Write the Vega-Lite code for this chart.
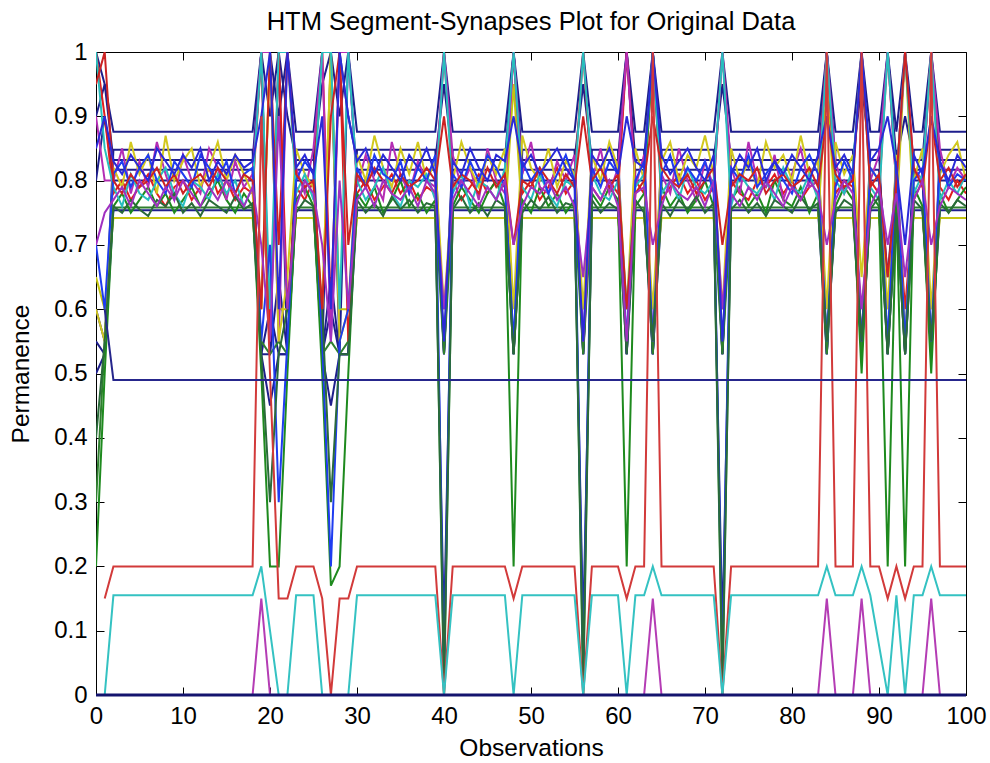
{
  "$schema": "https://vega.github.io/schema/vega-lite/v6.json",
  "width": 870,
  "height": 643,
  "autosize": {"type": "none"},
  "padding": {"left": 96, "top": 52, "right": 24, "bottom": 68},
  "background": "white",
  "title": {
    "text": "HTM Segment-Synapses Plot for Original Data",
    "anchor": "middle",
    "font": "Liberation Sans",
    "fontSize": 25.5,
    "fontWeight": "normal",
    "color": "black",
    "baseline": "alphabetic",
    "offset": -15
  },
  "config": {
    "view": {"stroke": null},
    "axis": {
      "labelFont": "Liberation Sans",
      "titleFont": "Liberation Sans",
      "labelFontSize": 24,
      "titleFontSize": 24.5,
      "titleFontWeight": "normal",
      "labelColor": "black",
      "titleColor": "black",
      "domainColor": "black",
      "tickColor": "black",
      "grid": false,
      "tickSize": -8
    }
  },
  "data": {
    "values": [
      {"s":"f1","x":0,"y":0.9},{"s":"f1","x":1,"y":0.95},{"s":"f1","x":2,"y":0.876},{"s":"f1","x":18,"y":0.876},{"s":"f1","x":19,"y":1},{"s":"f1","x":20,"y":1},{"s":"f1","x":21,"y":0.9},{"s":"f1","x":22,"y":1},{"s":"f1","x":23,"y":0.876},{"s":"f1","x":25,"y":0.876},{"s":"f1","x":26,"y":1},{"s":"f1","x":27,"y":1},{"s":"f1","x":28,"y":0.9},{"s":"f1","x":29,"y":1},{"s":"f1","x":30,"y":0.876},{"s":"f1","x":39,"y":0.876},{"s":"f1","x":40,"y":1},{"s":"f1","x":41,"y":0.876},{"s":"f1","x":47,"y":0.876},{"s":"f1","x":48,"y":1},{"s":"f1","x":49,"y":0.876},{"s":"f1","x":55,"y":0.876},{"s":"f1","x":56,"y":1},{"s":"f1","x":57,"y":0.876},{"s":"f1","x":60,"y":0.876},{"s":"f1","x":61,"y":1},{"s":"f1","x":62,"y":0.876},{"s":"f1","x":63,"y":0.876},{"s":"f1","x":64,"y":1},{"s":"f1","x":65,"y":0.876},{"s":"f1","x":71,"y":0.876},{"s":"f1","x":72,"y":1},{"s":"f1","x":73,"y":0.876},{"s":"f1","x":83,"y":0.876},{"s":"f1","x":84,"y":1},{"s":"f1","x":85,"y":0.876},{"s":"f1","x":87,"y":0.876},{"s":"f1","x":88,"y":1},{"s":"f1","x":89,"y":0.876},{"s":"f1","x":90,"y":0.876},{"s":"f1","x":91,"y":1},{"s":"f1","x":92,"y":0.876},{"s":"f1","x":93,"y":1},{"s":"f1","x":94,"y":0.876},{"s":"f1","x":95,"y":0.876},{"s":"f1","x":96,"y":1},{"s":"f1","x":97,"y":0.876},{"s":"f1","x":100,"y":0.876},

      {"s":"f2","x":0,"y":0.6},{"s":"f2","x":1,"y":0.55},{"s":"f2","x":2,"y":0.848},{"s":"f2","x":18,"y":0.848},{"s":"f2","x":19,"y":0.53},{"s":"f2","x":20,"y":0.6},{"s":"f2","x":21,"y":0.53},{"s":"f2","x":22,"y":0.53},{"s":"f2","x":23,"y":0.848},{"s":"f2","x":25,"y":0.848},{"s":"f2","x":26,"y":0.53},{"s":"f2","x":27,"y":0.6},{"s":"f2","x":28,"y":0.53},{"s":"f2","x":29,"y":0.53},{"s":"f2","x":30,"y":0.848},{"s":"f2","x":39,"y":0.848},{"s":"f2","x":40,"y":0.53},{"s":"f2","x":41,"y":0.848},{"s":"f2","x":47,"y":0.848},{"s":"f2","x":48,"y":0.53},{"s":"f2","x":49,"y":0.848},{"s":"f2","x":55,"y":0.848},{"s":"f2","x":56,"y":0.53},{"s":"f2","x":57,"y":0.848},{"s":"f2","x":60,"y":0.848},{"s":"f2","x":61,"y":0.53},{"s":"f2","x":62,"y":0.848},{"s":"f2","x":63,"y":0.848},{"s":"f2","x":64,"y":0.53},{"s":"f2","x":65,"y":0.848},{"s":"f2","x":71,"y":0.848},{"s":"f2","x":72,"y":0.53},{"s":"f2","x":73,"y":0.848},{"s":"f2","x":83,"y":0.848},{"s":"f2","x":84,"y":0.53},{"s":"f2","x":85,"y":0.848},{"s":"f2","x":87,"y":0.848},{"s":"f2","x":88,"y":0.53},{"s":"f2","x":89,"y":0.848},{"s":"f2","x":90,"y":0.848},{"s":"f2","x":91,"y":0.53},{"s":"f2","x":92,"y":0.848},{"s":"f2","x":93,"y":0.53},{"s":"f2","x":94,"y":0.848},{"s":"f2","x":95,"y":0.848},{"s":"f2","x":96,"y":0.53},{"s":"f2","x":97,"y":0.848},{"s":"f2","x":100,"y":0.848},

      {"s":"f3","x":0,"y":1},{"s":"f3","x":1,"y":0.95},{"s":"f3","x":2,"y":0.832},{"s":"f3","x":18,"y":0.832},{"s":"f3","x":19,"y":1},{"s":"f3","x":20,"y":0.9},{"s":"f3","x":21,"y":1},{"s":"f3","x":22,"y":0.9},{"s":"f3","x":23,"y":0.832},{"s":"f3","x":25,"y":0.832},{"s":"f3","x":26,"y":0.95},{"s":"f3","x":27,"y":1},{"s":"f3","x":28,"y":1},{"s":"f3","x":29,"y":0.9},{"s":"f3","x":30,"y":0.832},{"s":"f3","x":39,"y":0.832},{"s":"f3","x":40,"y":0.95},{"s":"f3","x":41,"y":0.832},{"s":"f3","x":47,"y":0.832},{"s":"f3","x":48,"y":1},{"s":"f3","x":49,"y":0.832},{"s":"f3","x":55,"y":0.832},{"s":"f3","x":56,"y":0.95},{"s":"f3","x":57,"y":0.832},{"s":"f3","x":60,"y":0.832},{"s":"f3","x":61,"y":1},{"s":"f3","x":62,"y":0.832},{"s":"f3","x":63,"y":0.832},{"s":"f3","x":64,"y":1},{"s":"f3","x":65,"y":0.832},{"s":"f3","x":71,"y":0.832},{"s":"f3","x":72,"y":0.95},{"s":"f3","x":73,"y":0.832},{"s":"f3","x":83,"y":0.832},{"s":"f3","x":84,"y":1},{"s":"f3","x":85,"y":0.832},{"s":"f3","x":87,"y":0.832},{"s":"f3","x":88,"y":0.95},{"s":"f3","x":89,"y":0.832},{"s":"f3","x":90,"y":0.832},{"s":"f3","x":91,"y":1},{"s":"f3","x":92,"y":0.832},{"s":"f3","x":93,"y":0.9},{"s":"f3","x":94,"y":0.832},{"s":"f3","x":95,"y":0.832},{"s":"f3","x":96,"y":1},{"s":"f3","x":97,"y":0.832},{"s":"f3","x":100,"y":0.832},

      {"s":"f4","x":0,"y":0.55},{"s":"f4","x":1,"y":0.53},{"s":"f4","x":2,"y":0.817},{"s":"f4","x":18,"y":0.817},{"s":"f4","x":19,"y":0.53},{"s":"f4","x":20,"y":0.53},{"s":"f4","x":21,"y":0.65},{"s":"f4","x":22,"y":0.53},{"s":"f4","x":23,"y":0.817},{"s":"f4","x":25,"y":0.817},{"s":"f4","x":26,"y":0.53},{"s":"f4","x":27,"y":0.65},{"s":"f4","x":28,"y":0.53},{"s":"f4","x":29,"y":0.53},{"s":"f4","x":30,"y":0.817},{"s":"f4","x":39,"y":0.817},{"s":"f4","x":40,"y":0.53},{"s":"f4","x":41,"y":0.817},{"s":"f4","x":47,"y":0.817},{"s":"f4","x":48,"y":0.53},{"s":"f4","x":49,"y":0.817},{"s":"f4","x":55,"y":0.817},{"s":"f4","x":56,"y":0.53},{"s":"f4","x":57,"y":0.817},{"s":"f4","x":60,"y":0.817},{"s":"f4","x":61,"y":0.53},{"s":"f4","x":62,"y":0.817},{"s":"f4","x":63,"y":0.817},{"s":"f4","x":64,"y":0.53},{"s":"f4","x":65,"y":0.817},{"s":"f4","x":71,"y":0.817},{"s":"f4","x":72,"y":0.53},{"s":"f4","x":73,"y":0.817},{"s":"f4","x":83,"y":0.817},{"s":"f4","x":84,"y":0.53},{"s":"f4","x":85,"y":0.817},{"s":"f4","x":87,"y":0.817},{"s":"f4","x":88,"y":0.53},{"s":"f4","x":89,"y":0.817},{"s":"f4","x":90,"y":0.817},{"s":"f4","x":91,"y":0.65},{"s":"f4","x":92,"y":0.817},{"s":"f4","x":93,"y":0.53},{"s":"f4","x":94,"y":0.817},{"s":"f4","x":95,"y":0.817},{"s":"f4","x":96,"y":0.53},{"s":"f4","x":97,"y":0.817},{"s":"f4","x":100,"y":0.817},

      {"s":"f5","x":0,"y":0.8},{"s":"f5","x":1,"y":0.9},{"s":"f5","x":2,"y":0.8},{"s":"f5","x":18,"y":0.8},{"s":"f5","x":19,"y":1},{"s":"f5","x":20,"y":0.53},{"s":"f5","x":21,"y":1},{"s":"f5","x":22,"y":0.53},{"s":"f5","x":23,"y":0.8},{"s":"f5","x":25,"y":0.8},{"s":"f5","x":26,"y":0.53},{"s":"f5","x":27,"y":1},{"s":"f5","x":28,"y":0.53},{"s":"f5","x":29,"y":1},{"s":"f5","x":30,"y":0.8},{"s":"f5","x":39,"y":0.8},{"s":"f5","x":40,"y":0.53},{"s":"f5","x":41,"y":0.8},{"s":"f5","x":47,"y":0.8},{"s":"f5","x":48,"y":1},{"s":"f5","x":49,"y":0.8},{"s":"f5","x":55,"y":0.8},{"s":"f5","x":56,"y":0.53},{"s":"f5","x":57,"y":0.8},{"s":"f5","x":60,"y":0.8},{"s":"f5","x":61,"y":1},{"s":"f5","x":62,"y":0.8},{"s":"f5","x":63,"y":0.8},{"s":"f5","x":64,"y":0.53},{"s":"f5","x":65,"y":0.8},{"s":"f5","x":71,"y":0.8},{"s":"f5","x":72,"y":0.53},{"s":"f5","x":73,"y":0.8},{"s":"f5","x":83,"y":0.8},{"s":"f5","x":84,"y":1},{"s":"f5","x":85,"y":0.8},{"s":"f5","x":87,"y":0.8},{"s":"f5","x":88,"y":0.53},{"s":"f5","x":89,"y":0.8},{"s":"f5","x":90,"y":0.8},{"s":"f5","x":91,"y":0.53},{"s":"f5","x":92,"y":0.8},{"s":"f5","x":93,"y":1},{"s":"f5","x":94,"y":0.8},{"s":"f5","x":95,"y":0.8},{"s":"f5","x":96,"y":0.53},{"s":"f5","x":97,"y":0.8},{"s":"f5","x":100,"y":0.8},

      {"s":"f6","x":0,"y":0.5},{"s":"f6","x":1,"y":0.53},{"s":"f6","x":2,"y":0.754},{"s":"f6","x":18,"y":0.754},{"s":"f6","x":19,"y":0.53},{"s":"f6","x":20,"y":0.45},{"s":"f6","x":21,"y":0.53},{"s":"f6","x":22,"y":0.53},{"s":"f6","x":23,"y":0.754},{"s":"f6","x":25,"y":0.754},{"s":"f6","x":26,"y":0.53},{"s":"f6","x":27,"y":0.45},{"s":"f6","x":28,"y":0.53},{"s":"f6","x":29,"y":0.53},{"s":"f6","x":30,"y":0.754},{"s":"f6","x":39,"y":0.754},{"s":"f6","x":40,"y":0.1},{"s":"f6","x":41,"y":0.754},{"s":"f6","x":47,"y":0.754},{"s":"f6","x":48,"y":0.53},{"s":"f6","x":49,"y":0.754},{"s":"f6","x":55,"y":0.754},{"s":"f6","x":56,"y":0.1},{"s":"f6","x":57,"y":0.754},{"s":"f6","x":60,"y":0.754},{"s":"f6","x":61,"y":0.53},{"s":"f6","x":62,"y":0.754},{"s":"f6","x":63,"y":0.754},{"s":"f6","x":64,"y":0.53},{"s":"f6","x":65,"y":0.754},{"s":"f6","x":71,"y":0.754},{"s":"f6","x":72,"y":0.1},{"s":"f6","x":73,"y":0.754},{"s":"f6","x":83,"y":0.754},{"s":"f6","x":84,"y":0.53},{"s":"f6","x":85,"y":0.754},{"s":"f6","x":87,"y":0.754},{"s":"f6","x":88,"y":0.53},{"s":"f6","x":89,"y":0.754},{"s":"f6","x":90,"y":0.754},{"s":"f6","x":91,"y":0.53},{"s":"f6","x":92,"y":0.754},{"s":"f6","x":93,"y":0.53},{"s":"f6","x":94,"y":0.754},{"s":"f6","x":95,"y":0.754},{"s":"f6","x":96,"y":0.53},{"s":"f6","x":97,"y":0.754},{"s":"f6","x":100,"y":0.754},

      {"s":"fy","x":0,"y":0.65},{"s":"fy","x":1,"y":0.6},{"s":"fy","x":2,"y":0.742},{"s":"fy","x":18,"y":0.742},{"s":"fy","x":19,"y":0.6},{"s":"fy","x":20,"y":1},{"s":"fy","x":21,"y":0.6},{"s":"fy","x":22,"y":0.6},{"s":"fy","x":23,"y":0.742},{"s":"fy","x":25,"y":0.742},{"s":"fy","x":26,"y":0.6},{"s":"fy","x":27,"y":1},{"s":"fy","x":28,"y":0.6},{"s":"fy","x":29,"y":0.6},{"s":"fy","x":30,"y":0.742},{"s":"fy","x":39,"y":0.742},{"s":"fy","x":40,"y":0.6},{"s":"fy","x":41,"y":0.742},{"s":"fy","x":47,"y":0.742},{"s":"fy","x":48,"y":0.95},{"s":"fy","x":49,"y":0.742},{"s":"fy","x":55,"y":0.742},{"s":"fy","x":56,"y":0.6},{"s":"fy","x":57,"y":0.742},{"s":"fy","x":60,"y":0.742},{"s":"fy","x":61,"y":0.6},{"s":"fy","x":62,"y":0.742},{"s":"fy","x":63,"y":0.742},{"s":"fy","x":64,"y":0.6},{"s":"fy","x":65,"y":0.742},{"s":"fy","x":71,"y":0.742},{"s":"fy","x":72,"y":0.6},{"s":"fy","x":73,"y":0.742},{"s":"fy","x":83,"y":0.742},{"s":"fy","x":84,"y":0.95},{"s":"fy","x":85,"y":0.742},{"s":"fy","x":87,"y":0.742},{"s":"fy","x":88,"y":0.6},{"s":"fy","x":89,"y":0.742},{"s":"fy","x":90,"y":0.742},{"s":"fy","x":91,"y":0.6},{"s":"fy","x":92,"y":0.742},{"s":"fy","x":93,"y":1},{"s":"fy","x":94,"y":0.742},{"s":"fy","x":95,"y":0.742},{"s":"fy","x":96,"y":0.6},{"s":"fy","x":97,"y":0.742},{"s":"fy","x":100,"y":0.742},

      {"s":"fg","x":0,"y":0.3},{"s":"fg","x":1,"y":0.55},{"s":"fg","x":2,"y":0.758},{"s":"fg","x":18,"y":0.758},{"s":"fg","x":19,"y":0.55},{"s":"fg","x":20,"y":0.53},{"s":"fg","x":21,"y":0.55},{"s":"fg","x":22,"y":0.53},{"s":"fg","x":23,"y":0.758},{"s":"fg","x":25,"y":0.758},{"s":"fg","x":26,"y":0.53},{"s":"fg","x":27,"y":0.55},{"s":"fg","x":28,"y":0.53},{"s":"fg","x":29,"y":0.55},{"s":"fg","x":30,"y":0.758},{"s":"fg","x":39,"y":0.758},{"s":"fg","x":40,"y":0.53},{"s":"fg","x":41,"y":0.758},{"s":"fg","x":47,"y":0.758},{"s":"fg","x":48,"y":0.53},{"s":"fg","x":49,"y":0.758},{"s":"fg","x":55,"y":0.758},{"s":"fg","x":56,"y":0.53},{"s":"fg","x":57,"y":0.758},{"s":"fg","x":60,"y":0.758},{"s":"fg","x":61,"y":0.55},{"s":"fg","x":62,"y":0.758},{"s":"fg","x":63,"y":0.758},{"s":"fg","x":64,"y":0.53},{"s":"fg","x":65,"y":0.758},{"s":"fg","x":71,"y":0.758},{"s":"fg","x":72,"y":0.53},{"s":"fg","x":73,"y":0.758},{"s":"fg","x":83,"y":0.758},{"s":"fg","x":84,"y":0.53},{"s":"fg","x":85,"y":0.758},{"s":"fg","x":87,"y":0.758},{"s":"fg","x":88,"y":0.53},{"s":"fg","x":89,"y":0.758},{"s":"fg","x":90,"y":0.758},{"s":"fg","x":91,"y":0.53},{"s":"fg","x":92,"y":0.758},{"s":"fg","x":93,"y":0.53},{"s":"fg","x":94,"y":0.758},{"s":"fg","x":95,"y":0.758},{"s":"fg","x":96,"y":0.53},{"s":"fg","x":97,"y":0.758},{"s":"fg","x":100,"y":0.758},

      {"s":"n1","x":0,"y":1},{"s":"n1","x":1,"y":0.9},{"s":"n1","x":2,"y":0.78},{"s":"n1","x":3,"y":0.8},{"s":"n1","x":4,"y":0.77},{"s":"n1","x":5,"y":0.79},{"s":"n1","x":6,"y":0.81},{"s":"n1","x":7,"y":0.78},{"s":"n1","x":8,"y":0.76},{"s":"n1","x":9,"y":0.79},{"s":"n1","x":10,"y":0.8},{"s":"n1","x":11,"y":0.77},{"s":"n1","x":12,"y":0.79},{"s":"n1","x":13,"y":0.82},{"s":"n1","x":14,"y":0.78},{"s":"n1","x":15,"y":0.8},{"s":"n1","x":16,"y":0.77},{"s":"n1","x":17,"y":0.79},{"s":"n1","x":18,"y":0.78},{"s":"n1","x":19,"y":1},{"s":"n1","x":20,"y":0.55},{"s":"n1","x":21,"y":1},{"s":"n1","x":22,"y":0.6},{"s":"n1","x":23,"y":0.79},{"s":"n1","x":24,"y":0.77},{"s":"n1","x":25,"y":0.8},{"s":"n1","x":26,"y":1},{"s":"n1","x":27,"y":0.6},{"s":"n1","x":28,"y":1},{"s":"n1","x":29,"y":0.55},{"s":"n1","x":30,"y":0.78},{"s":"n1","x":31,"y":0.8},{"s":"n1","x":32,"y":0.77},{"s":"n1","x":33,"y":0.79},{"s":"n1","x":34,"y":0.81},{"s":"n1","x":35,"y":0.78},{"s":"n1","x":36,"y":0.8},{"s":"n1","x":37,"y":0.77},{"s":"n1","x":38,"y":0.79},{"s":"n1","x":39,"y":0.78},{"s":"n1","x":40,"y":1},{"s":"n1","x":41,"y":0.8},{"s":"n1","x":42,"y":0.77},{"s":"n1","x":43,"y":0.79},{"s":"n1","x":44,"y":0.81},{"s":"n1","x":45,"y":0.78},{"s":"n1","x":46,"y":0.8},{"s":"n1","x":47,"y":0.79},{"s":"n1","x":48,"y":1},{"s":"n1","x":49,"y":0.78},{"s":"n1","x":50,"y":0.8},{"s":"n1","x":51,"y":0.77},{"s":"n1","x":52,"y":0.79},{"s":"n1","x":53,"y":0.82},{"s":"n1","x":54,"y":0.78},{"s":"n1","x":55,"y":0.8},{"s":"n1","x":56,"y":1},{"s":"n1","x":57,"y":0.79},{"s":"n1","x":58,"y":0.77},{"s":"n1","x":59,"y":0.8},{"s":"n1","x":60,"y":0.78},{"s":"n1","x":61,"y":1},{"s":"n1","x":62,"y":0.8},{"s":"n1","x":63,"y":0.78},{"s":"n1","x":64,"y":1},{"s":"n1","x":65,"y":0.77},{"s":"n1","x":66,"y":0.79},{"s":"n1","x":67,"y":0.81},{"s":"n1","x":68,"y":0.78},{"s":"n1","x":69,"y":0.8},{"s":"n1","x":70,"y":0.77},{"s":"n1","x":71,"y":0.79},{"s":"n1","x":72,"y":1},{"s":"n1","x":73,"y":0.8},{"s":"n1","x":74,"y":0.78},{"s":"n1","x":75,"y":0.77},{"s":"n1","x":76,"y":0.8},{"s":"n1","x":77,"y":0.79},{"s":"n1","x":78,"y":0.81},{"s":"n1","x":79,"y":0.78},{"s":"n1","x":80,"y":0.8},{"s":"n1","x":81,"y":0.77},{"s":"n1","x":82,"y":0.79},{"s":"n1","x":83,"y":0.8},{"s":"n1","x":84,"y":1},{"s":"n1","x":85,"y":0.78},{"s":"n1","x":86,"y":0.8},{"s":"n1","x":87,"y":0.79},{"s":"n1","x":88,"y":0.55},{"s":"n1","x":89,"y":0.8},{"s":"n1","x":90,"y":0.78},{"s":"n1","x":91,"y":1},{"s":"n1","x":92,"y":0.79},{"s":"n1","x":93,"y":0.6},{"s":"n1","x":94,"y":0.77},{"s":"n1","x":95,"y":0.8},{"s":"n1","x":96,"y":1},{"s":"n1","x":97,"y":0.79},{"s":"n1","x":98,"y":0.77},{"s":"n1","x":99,"y":0.8},{"s":"n1","x":100,"y":0.78},

      {"s":"n2","x":0,"y":0.2},{"s":"n2","x":1,"y":0.5},{"s":"n2","x":2,"y":0.76},{"s":"n2","x":3,"y":0.78},{"s":"n2","x":4,"y":0.75},{"s":"n2","x":5,"y":0.77},{"s":"n2","x":6,"y":0.79},{"s":"n2","x":7,"y":0.76},{"s":"n2","x":8,"y":0.78},{"s":"n2","x":9,"y":0.75},{"s":"n2","x":10,"y":0.77},{"s":"n2","x":11,"y":0.79},{"s":"n2","x":12,"y":0.76},{"s":"n2","x":13,"y":0.78},{"s":"n2","x":14,"y":0.8},{"s":"n2","x":15,"y":0.77},{"s":"n2","x":16,"y":0.75},{"s":"n2","x":17,"y":0.78},{"s":"n2","x":18,"y":0.76},{"s":"n2","x":19,"y":0.5},{"s":"n2","x":20,"y":0.2},{"s":"n2","x":21,"y":0.2},{"s":"n2","x":22,"y":0.5},{"s":"n2","x":23,"y":0.77},{"s":"n2","x":24,"y":0.79},{"s":"n2","x":25,"y":0.76},{"s":"n2","x":26,"y":0.5},{"s":"n2","x":27,"y":0.17},{"s":"n2","x":28,"y":0.2},{"s":"n2","x":29,"y":0.5},{"s":"n2","x":30,"y":0.78},{"s":"n2","x":31,"y":0.76},{"s":"n2","x":32,"y":0.79},{"s":"n2","x":33,"y":0.75},{"s":"n2","x":34,"y":0.77},{"s":"n2","x":35,"y":0.8},{"s":"n2","x":36,"y":0.76},{"s":"n2","x":37,"y":0.78},{"s":"n2","x":38,"y":0.75},{"s":"n2","x":39,"y":0.77},{"s":"n2","x":40,"y":0},{"s":"n2","x":41,"y":0.76},{"s":"n2","x":42,"y":0.79},{"s":"n2","x":43,"y":0.77},{"s":"n2","x":44,"y":0.75},{"s":"n2","x":45,"y":0.78},{"s":"n2","x":46,"y":0.8},{"s":"n2","x":47,"y":0.76},{"s":"n2","x":48,"y":0.2},{"s":"n2","x":49,"y":0.77},{"s":"n2","x":50,"y":0.75},{"s":"n2","x":51,"y":0.79},{"s":"n2","x":52,"y":0.76},{"s":"n2","x":53,"y":0.78},{"s":"n2","x":54,"y":0.75},{"s":"n2","x":55,"y":0.77},{"s":"n2","x":56,"y":0},{"s":"n2","x":57,"y":0.78},{"s":"n2","x":58,"y":0.76},{"s":"n2","x":59,"y":0.79},{"s":"n2","x":60,"y":0.77},{"s":"n2","x":61,"y":0.2},{"s":"n2","x":62,"y":0.76},{"s":"n2","x":63,"y":0.78},{"s":"n2","x":64,"y":1},{"s":"n2","x":65,"y":0.79},{"s":"n2","x":66,"y":0.76},{"s":"n2","x":67,"y":0.78},{"s":"n2","x":68,"y":0.75},{"s":"n2","x":69,"y":0.77},{"s":"n2","x":70,"y":0.8},{"s":"n2","x":71,"y":0.76},{"s":"n2","x":72,"y":0},{"s":"n2","x":73,"y":0.77},{"s":"n2","x":74,"y":0.79},{"s":"n2","x":75,"y":0.76},{"s":"n2","x":76,"y":0.78},{"s":"n2","x":77,"y":0.75},{"s":"n2","x":78,"y":0.8},{"s":"n2","x":79,"y":0.77},{"s":"n2","x":80,"y":0.76},{"s":"n2","x":81,"y":0.79},{"s":"n2","x":82,"y":0.75},{"s":"n2","x":83,"y":0.78},{"s":"n2","x":84,"y":0.55},{"s":"n2","x":85,"y":0.76},{"s":"n2","x":86,"y":0.79},{"s":"n2","x":87,"y":0.77},{"s":"n2","x":88,"y":0.5},{"s":"n2","x":89,"y":0.78},{"s":"n2","x":90,"y":0.76},{"s":"n2","x":91,"y":0.2},{"s":"n2","x":92,"y":0.77},{"s":"n2","x":93,"y":0.2},{"s":"n2","x":94,"y":0.79},{"s":"n2","x":95,"y":0.76},{"s":"n2","x":96,"y":0.5},{"s":"n2","x":97,"y":0.78},{"s":"n2","x":98,"y":0.75},{"s":"n2","x":99,"y":0.77},{"s":"n2","x":100,"y":0.79},

      {"s":"n3","x":0,"y":0.9},{"s":"n3","x":1,"y":0.8},{"s":"n3","x":2,"y":0.8},{"s":"n3","x":3,"y":0.85},{"s":"n3","x":4,"y":0.78},{"s":"n3","x":5,"y":0.83},{"s":"n3","x":6,"y":0.79},{"s":"n3","x":7,"y":0.86},{"s":"n3","x":8,"y":0.81},{"s":"n3","x":9,"y":0.77},{"s":"n3","x":10,"y":0.84},{"s":"n3","x":11,"y":0.8},{"s":"n3","x":12,"y":0.78},{"s":"n3","x":13,"y":0.85},{"s":"n3","x":14,"y":0.82},{"s":"n3","x":15,"y":0.77},{"s":"n3","x":16,"y":0.83},{"s":"n3","x":17,"y":0.79},{"s":"n3","x":18,"y":0.81},{"s":"n3","x":19,"y":1},{"s":"n3","x":20,"y":1},{"s":"n3","x":21,"y":0.55},{"s":"n3","x":22,"y":1},{"s":"n3","x":23,"y":0.82},{"s":"n3","x":24,"y":0.78},{"s":"n3","x":25,"y":0.85},{"s":"n3","x":26,"y":1},{"s":"n3","x":27,"y":0.55},{"s":"n3","x":28,"y":1},{"s":"n3","x":29,"y":1},{"s":"n3","x":30,"y":0.79},{"s":"n3","x":31,"y":0.84},{"s":"n3","x":32,"y":0.8},{"s":"n3","x":33,"y":0.77},{"s":"n3","x":34,"y":0.86},{"s":"n3","x":35,"y":0.81},{"s":"n3","x":36,"y":0.78},{"s":"n3","x":37,"y":0.83},{"s":"n3","x":38,"y":0.8},{"s":"n3","x":39,"y":0.79},{"s":"n3","x":40,"y":1},{"s":"n3","x":41,"y":0.84},{"s":"n3","x":42,"y":0.79},{"s":"n3","x":43,"y":0.82},{"s":"n3","x":44,"y":0.77},{"s":"n3","x":45,"y":0.85},{"s":"n3","x":46,"y":0.8},{"s":"n3","x":47,"y":0.78},{"s":"n3","x":48,"y":1},{"s":"n3","x":49,"y":0.81},{"s":"n3","x":50,"y":0.86},{"s":"n3","x":51,"y":0.79},{"s":"n3","x":52,"y":0.78},{"s":"n3","x":53,"y":0.83},{"s":"n3","x":54,"y":0.8},{"s":"n3","x":55,"y":0.84},{"s":"n3","x":56,"y":0.55},{"s":"n3","x":57,"y":0.8},{"s":"n3","x":58,"y":0.85},{"s":"n3","x":59,"y":0.78},{"s":"n3","x":60,"y":0.82},{"s":"n3","x":61,"y":1},{"s":"n3","x":62,"y":0.79},{"s":"n3","x":63,"y":0.84},{"s":"n3","x":64,"y":0.55},{"s":"n3","x":65,"y":0.81},{"s":"n3","x":66,"y":0.78},{"s":"n3","x":67,"y":0.85},{"s":"n3","x":68,"y":0.8},{"s":"n3","x":69,"y":0.77},{"s":"n3","x":70,"y":0.83},{"s":"n3","x":71,"y":0.79},{"s":"n3","x":72,"y":1},{"s":"n3","x":73,"y":0.82},{"s":"n3","x":74,"y":0.78},{"s":"n3","x":75,"y":0.86},{"s":"n3","x":76,"y":0.8},{"s":"n3","x":77,"y":0.79},{"s":"n3","x":78,"y":0.84},{"s":"n3","x":79,"y":0.77},{"s":"n3","x":80,"y":0.81},{"s":"n3","x":81,"y":0.85},{"s":"n3","x":82,"y":0.79},{"s":"n3","x":83,"y":0.8},{"s":"n3","x":84,"y":1},{"s":"n3","x":85,"y":0.83},{"s":"n3","x":86,"y":0.78},{"s":"n3","x":87,"y":0.81},{"s":"n3","x":88,"y":1},{"s":"n3","x":89,"y":0.8},{"s":"n3","x":90,"y":0.84},{"s":"n3","x":91,"y":1},{"s":"n3","x":92,"y":0.79},{"s":"n3","x":93,"y":1},{"s":"n3","x":94,"y":0.82},{"s":"n3","x":95,"y":0.8},{"s":"n3","x":96,"y":1},{"s":"n3","x":97,"y":0.85},{"s":"n3","x":98,"y":0.79},{"s":"n3","x":99,"y":0.82},{"s":"n3","x":100,"y":0.8},

      {"s":"n4","x":0,"y":0.6},{"s":"n4","x":1,"y":0.55},{"s":"n4","x":2,"y":0.82},{"s":"n4","x":3,"y":0.79},{"s":"n4","x":4,"y":0.86},{"s":"n4","x":5,"y":0.81},{"s":"n4","x":6,"y":0.84},{"s":"n4","x":7,"y":0.78},{"s":"n4","x":8,"y":0.87},{"s":"n4","x":9,"y":0.8},{"s":"n4","x":10,"y":0.83},{"s":"n4","x":11,"y":0.85},{"s":"n4","x":12,"y":0.79},{"s":"n4","x":13,"y":0.82},{"s":"n4","x":14,"y":0.86},{"s":"n4","x":15,"y":0.8},{"s":"n4","x":16,"y":0.84},{"s":"n4","x":17,"y":0.81},{"s":"n4","x":18,"y":0.78},{"s":"n4","x":19,"y":0.6},{"s":"n4","x":20,"y":1},{"s":"n4","x":21,"y":0.55},{"s":"n4","x":22,"y":0.65},{"s":"n4","x":23,"y":0.85},{"s":"n4","x":24,"y":0.81},{"s":"n4","x":25,"y":0.79},{"s":"n4","x":26,"y":0.6},{"s":"n4","x":27,"y":1},{"s":"n4","x":28,"y":0.55},{"s":"n4","x":29,"y":0.6},{"s":"n4","x":30,"y":0.84},{"s":"n4","x":31,"y":0.8},{"s":"n4","x":32,"y":0.87},{"s":"n4","x":33,"y":0.82},{"s":"n4","x":34,"y":0.79},{"s":"n4","x":35,"y":0.85},{"s":"n4","x":36,"y":0.81},{"s":"n4","x":37,"y":0.86},{"s":"n4","x":38,"y":0.8},{"s":"n4","x":39,"y":0.83},{"s":"n4","x":40,"y":0.6},{"s":"n4","x":41,"y":0.8},{"s":"n4","x":42,"y":0.86},{"s":"n4","x":43,"y":0.82},{"s":"n4","x":44,"y":0.79},{"s":"n4","x":45,"y":0.84},{"s":"n4","x":46,"y":0.81},{"s":"n4","x":47,"y":0.85},{"s":"n4","x":48,"y":0.6},{"s":"n4","x":49,"y":0.87},{"s":"n4","x":50,"y":0.82},{"s":"n4","x":51,"y":0.8},{"s":"n4","x":52,"y":0.85},{"s":"n4","x":53,"y":0.79},{"s":"n4","x":54,"y":0.83},{"s":"n4","x":55,"y":0.81},{"s":"n4","x":56,"y":0.6},{"s":"n4","x":57,"y":0.84},{"s":"n4","x":58,"y":0.8},{"s":"n4","x":59,"y":0.86},{"s":"n4","x":60,"y":0.82},{"s":"n4","x":61,"y":0.6},{"s":"n4","x":62,"y":0.85},{"s":"n4","x":63,"y":0.8},{"s":"n4","x":64,"y":0.6},{"s":"n4","x":65,"y":0.83},{"s":"n4","x":66,"y":0.86},{"s":"n4","x":67,"y":0.8},{"s":"n4","x":68,"y":0.84},{"s":"n4","x":69,"y":0.82},{"s":"n4","x":70,"y":0.87},{"s":"n4","x":71,"y":0.81},{"s":"n4","x":72,"y":0.6},{"s":"n4","x":73,"y":0.85},{"s":"n4","x":74,"y":0.8},{"s":"n4","x":75,"y":0.83},{"s":"n4","x":76,"y":0.79},{"s":"n4","x":77,"y":0.86},{"s":"n4","x":78,"y":0.82},{"s":"n4","x":79,"y":0.84},{"s":"n4","x":80,"y":0.8},{"s":"n4","x":81,"y":0.87},{"s":"n4","x":82,"y":0.81},{"s":"n4","x":83,"y":0.83},{"s":"n4","x":84,"y":0.6},{"s":"n4","x":85,"y":0.86},{"s":"n4","x":86,"y":0.81},{"s":"n4","x":87,"y":0.84},{"s":"n4","x":88,"y":0.65},{"s":"n4","x":89,"y":0.82},{"s":"n4","x":90,"y":0.8},{"s":"n4","x":91,"y":0.6},{"s":"n4","x":92,"y":0.84},{"s":"n4","x":93,"y":0.55},{"s":"n4","x":94,"y":0.8},{"s":"n4","x":95,"y":0.85},{"s":"n4","x":96,"y":0.6},{"s":"n4","x":97,"y":0.81},{"s":"n4","x":98,"y":0.84},{"s":"n4","x":99,"y":0.86},{"s":"n4","x":100,"y":0.8},

      {"s":"n5","x":0,"y":1},{"s":"n5","x":1,"y":0.85},{"s":"n5","x":2,"y":0.79},{"s":"n5","x":3,"y":0.76},{"s":"n5","x":4,"y":0.81},{"s":"n5","x":5,"y":0.78},{"s":"n5","x":6,"y":0.77},{"s":"n5","x":7,"y":0.8},{"s":"n5","x":8,"y":0.82},{"s":"n5","x":9,"y":0.78},{"s":"n5","x":10,"y":0.76},{"s":"n5","x":11,"y":0.8},{"s":"n5","x":12,"y":0.79},{"s":"n5","x":13,"y":0.77},{"s":"n5","x":14,"y":0.81},{"s":"n5","x":15,"y":0.78},{"s":"n5","x":16,"y":0.8},{"s":"n5","x":17,"y":0.76},{"s":"n5","x":18,"y":0.79},{"s":"n5","x":19,"y":1},{"s":"n5","x":20,"y":0.6},{"s":"n5","x":21,"y":1},{"s":"n5","x":22,"y":1},{"s":"n5","x":23,"y":0.78},{"s":"n5","x":24,"y":0.81},{"s":"n5","x":25,"y":0.77},{"s":"n5","x":26,"y":1},{"s":"n5","x":27,"y":1},{"s":"n5","x":28,"y":0.6},{"s":"n5","x":29,"y":1},{"s":"n5","x":30,"y":0.8},{"s":"n5","x":31,"y":0.77},{"s":"n5","x":32,"y":0.79},{"s":"n5","x":33,"y":0.82},{"s":"n5","x":34,"y":0.78},{"s":"n5","x":35,"y":0.76},{"s":"n5","x":36,"y":0.8},{"s":"n5","x":37,"y":0.79},{"s":"n5","x":38,"y":0.81},{"s":"n5","x":39,"y":0.77},{"s":"n5","x":40,"y":1},{"s":"n5","x":41,"y":0.78},{"s":"n5","x":42,"y":0.81},{"s":"n5","x":43,"y":0.76},{"s":"n5","x":44,"y":0.8},{"s":"n5","x":45,"y":0.79},{"s":"n5","x":46,"y":0.77},{"s":"n5","x":47,"y":0.82},{"s":"n5","x":48,"y":1},{"s":"n5","x":49,"y":0.79},{"s":"n5","x":50,"y":0.77},{"s":"n5","x":51,"y":0.81},{"s":"n5","x":52,"y":0.78},{"s":"n5","x":53,"y":0.76},{"s":"n5","x":54,"y":0.8},{"s":"n5","x":55,"y":0.79},{"s":"n5","x":56,"y":1},{"s":"n5","x":57,"y":0.81},{"s":"n5","x":58,"y":0.78},{"s":"n5","x":59,"y":0.77},{"s":"n5","x":60,"y":0.8},{"s":"n5","x":61,"y":0.6},{"s":"n5","x":62,"y":0.79},{"s":"n5","x":63,"y":0.81},{"s":"n5","x":64,"y":1},{"s":"n5","x":65,"y":0.78},{"s":"n5","x":66,"y":0.8},{"s":"n5","x":67,"y":0.77},{"s":"n5","x":68,"y":0.82},{"s":"n5","x":69,"y":0.79},{"s":"n5","x":70,"y":0.78},{"s":"n5","x":71,"y":0.8},{"s":"n5","x":72,"y":1},{"s":"n5","x":73,"y":0.76},{"s":"n5","x":74,"y":0.81},{"s":"n5","x":75,"y":0.79},{"s":"n5","x":76,"y":0.78},{"s":"n5","x":77,"y":0.8},{"s":"n5","x":78,"y":0.77},{"s":"n5","x":79,"y":0.82},{"s":"n5","x":80,"y":0.79},{"s":"n5","x":81,"y":0.78},{"s":"n5","x":82,"y":0.81},{"s":"n5","x":83,"y":0.77},{"s":"n5","x":84,"y":1},{"s":"n5","x":85,"y":0.8},{"s":"n5","x":86,"y":0.78},{"s":"n5","x":87,"y":0.82},{"s":"n5","x":88,"y":1},{"s":"n5","x":89,"y":0.79},{"s":"n5","x":90,"y":0.77},{"s":"n5","x":91,"y":1},{"s":"n5","x":92,"y":0.8},{"s":"n5","x":93,"y":1},{"s":"n5","x":94,"y":0.78},{"s":"n5","x":95,"y":0.81},{"s":"n5","x":96,"y":1},{"s":"n5","x":97,"y":0.77},{"s":"n5","x":98,"y":0.8},{"s":"n5","x":99,"y":0.78},{"s":"n5","x":100,"y":0.81},

      {"s":"n6","x":0,"y":0.7},{"s":"n6","x":1,"y":0.6},{"s":"n6","x":2,"y":0.81},{"s":"n6","x":3,"y":0.83},{"s":"n6","x":4,"y":0.79},{"s":"n6","x":5,"y":0.82},{"s":"n6","x":6,"y":0.84},{"s":"n6","x":7,"y":0.8},{"s":"n6","x":8,"y":0.78},{"s":"n6","x":9,"y":0.83},{"s":"n6","x":10,"y":0.81},{"s":"n6","x":11,"y":0.79},{"s":"n6","x":12,"y":0.84},{"s":"n6","x":13,"y":0.82},{"s":"n6","x":14,"y":0.8},{"s":"n6","x":15,"y":0.83},{"s":"n6","x":16,"y":0.78},{"s":"n6","x":17,"y":0.81},{"s":"n6","x":18,"y":0.82},{"s":"n6","x":19,"y":0.55},{"s":"n6","x":20,"y":0.7},{"s":"n6","x":21,"y":0.3},{"s":"n6","x":22,"y":0.55},{"s":"n6","x":23,"y":0.8},{"s":"n6","x":24,"y":0.83},{"s":"n6","x":25,"y":0.81},{"s":"n6","x":26,"y":0.55},{"s":"n6","x":27,"y":0.2},{"s":"n6","x":28,"y":0.55},{"s":"n6","x":29,"y":0.6},{"s":"n6","x":30,"y":0.82},{"s":"n6","x":31,"y":0.79},{"s":"n6","x":32,"y":0.84},{"s":"n6","x":33,"y":0.81},{"s":"n6","x":34,"y":0.8},{"s":"n6","x":35,"y":0.83},{"s":"n6","x":36,"y":0.78},{"s":"n6","x":37,"y":0.82},{"s":"n6","x":38,"y":0.8},{"s":"n6","x":39,"y":0.84},{"s":"n6","x":40,"y":0.03},{"s":"n6","x":41,"y":0.81},{"s":"n6","x":42,"y":0.79},{"s":"n6","x":43,"y":0.83},{"s":"n6","x":44,"y":0.8},{"s":"n6","x":45,"y":0.84},{"s":"n6","x":46,"y":0.82},{"s":"n6","x":47,"y":0.79},{"s":"n6","x":48,"y":0.55},{"s":"n6","x":49,"y":0.83},{"s":"n6","x":50,"y":0.8},{"s":"n6","x":51,"y":0.82},{"s":"n6","x":52,"y":0.78},{"s":"n6","x":53,"y":0.81},{"s":"n6","x":54,"y":0.84},{"s":"n6","x":55,"y":0.8},{"s":"n6","x":56,"y":0.05},{"s":"n6","x":57,"y":0.82},{"s":"n6","x":58,"y":0.79},{"s":"n6","x":59,"y":0.83},{"s":"n6","x":60,"y":0.81},{"s":"n6","x":61,"y":0.55},{"s":"n6","x":62,"y":0.8},{"s":"n6","x":63,"y":0.83},{"s":"n6","x":64,"y":0.55},{"s":"n6","x":65,"y":0.81},{"s":"n6","x":66,"y":0.84},{"s":"n6","x":67,"y":0.79},{"s":"n6","x":68,"y":0.82},{"s":"n6","x":69,"y":0.8},{"s":"n6","x":70,"y":0.83},{"s":"n6","x":71,"y":0.78},{"s":"n6","x":72,"y":0.05},{"s":"n6","x":73,"y":0.82},{"s":"n6","x":74,"y":0.8},{"s":"n6","x":75,"y":0.84},{"s":"n6","x":76,"y":0.79},{"s":"n6","x":77,"y":0.81},{"s":"n6","x":78,"y":0.83},{"s":"n6","x":79,"y":0.8},{"s":"n6","x":80,"y":0.78},{"s":"n6","x":81,"y":0.82},{"s":"n6","x":82,"y":0.84},{"s":"n6","x":83,"y":0.81},{"s":"n6","x":84,"y":0.55},{"s":"n6","x":85,"y":0.79},{"s":"n6","x":86,"y":0.83},{"s":"n6","x":87,"y":0.8},{"s":"n6","x":88,"y":0.55},{"s":"n6","x":89,"y":0.82},{"s":"n6","x":90,"y":0.8},{"s":"n6","x":91,"y":0.55},{"s":"n6","x":92,"y":0.83},{"s":"n6","x":93,"y":0.55},{"s":"n6","x":94,"y":0.8},{"s":"n6","x":95,"y":0.82},{"s":"n6","x":96,"y":0.55},{"s":"n6","x":97,"y":0.83},{"s":"n6","x":98,"y":0.79},{"s":"n6","x":99,"y":0.81},{"s":"n6","x":100,"y":0.8},

      {"s":"n7","x":0,"y":0.4},{"s":"n7","x":1,"y":0.55},{"s":"n7","x":2,"y":0.76},{"s":"n7","x":3,"y":0.75},{"s":"n7","x":4,"y":0.77},{"s":"n7","x":5,"y":0.755},{"s":"n7","x":6,"y":0.745},{"s":"n7","x":7,"y":0.77},{"s":"n7","x":8,"y":0.76},{"s":"n7","x":9,"y":0.78},{"s":"n7","x":10,"y":0.75},{"s":"n7","x":11,"y":0.765},{"s":"n7","x":12,"y":0.745},{"s":"n7","x":13,"y":0.77},{"s":"n7","x":14,"y":0.76},{"s":"n7","x":15,"y":0.75},{"s":"n7","x":16,"y":0.775},{"s":"n7","x":17,"y":0.755},{"s":"n7","x":18,"y":0.765},{"s":"n7","x":19,"y":0.53},{"s":"n7","x":20,"y":0.3},{"s":"n7","x":21,"y":0.53},{"s":"n7","x":22,"y":0.6},{"s":"n7","x":23,"y":0.75},{"s":"n7","x":24,"y":0.77},{"s":"n7","x":25,"y":0.76},{"s":"n7","x":26,"y":0.6},{"s":"n7","x":27,"y":0.3},{"s":"n7","x":28,"y":0.53},{"s":"n7","x":29,"y":0.53},{"s":"n7","x":30,"y":0.77},{"s":"n7","x":31,"y":0.75},{"s":"n7","x":32,"y":0.765},{"s":"n7","x":33,"y":0.745},{"s":"n7","x":34,"y":0.775},{"s":"n7","x":35,"y":0.755},{"s":"n7","x":36,"y":0.77},{"s":"n7","x":37,"y":0.75},{"s":"n7","x":38,"y":0.765},{"s":"n7","x":39,"y":0.76},{"s":"n7","x":40,"y":0.02},{"s":"n7","x":41,"y":0.755},{"s":"n7","x":42,"y":0.775},{"s":"n7","x":43,"y":0.75},{"s":"n7","x":44,"y":0.765},{"s":"n7","x":45,"y":0.745},{"s":"n7","x":46,"y":0.77},{"s":"n7","x":47,"y":0.76},{"s":"n7","x":48,"y":0.53},{"s":"n7","x":49,"y":0.75},{"s":"n7","x":50,"y":0.77},{"s":"n7","x":51,"y":0.755},{"s":"n7","x":52,"y":0.775},{"s":"n7","x":53,"y":0.75},{"s":"n7","x":54,"y":0.765},{"s":"n7","x":55,"y":0.76},{"s":"n7","x":56,"y":0.03},{"s":"n7","x":57,"y":0.77},{"s":"n7","x":58,"y":0.75},{"s":"n7","x":59,"y":0.765},{"s":"n7","x":60,"y":0.755},{"s":"n7","x":61,"y":0.53},{"s":"n7","x":62,"y":0.77},{"s":"n7","x":63,"y":0.75},{"s":"n7","x":64,"y":0.55},{"s":"n7","x":65,"y":0.765},{"s":"n7","x":66,"y":0.745},{"s":"n7","x":67,"y":0.77},{"s":"n7","x":68,"y":0.755},{"s":"n7","x":69,"y":0.775},{"s":"n7","x":70,"y":0.75},{"s":"n7","x":71,"y":0.765},{"s":"n7","x":72,"y":0.02},{"s":"n7","x":73,"y":0.755},{"s":"n7","x":74,"y":0.77},{"s":"n7","x":75,"y":0.75},{"s":"n7","x":76,"y":0.765},{"s":"n7","x":77,"y":0.745},{"s":"n7","x":78,"y":0.77},{"s":"n7","x":79,"y":0.76},{"s":"n7","x":80,"y":0.75},{"s":"n7","x":81,"y":0.775},{"s":"n7","x":82,"y":0.755},{"s":"n7","x":83,"y":0.765},{"s":"n7","x":84,"y":0.55},{"s":"n7","x":85,"y":0.75},{"s":"n7","x":86,"y":0.77},{"s":"n7","x":87,"y":0.76},{"s":"n7","x":88,"y":0.55},{"s":"n7","x":89,"y":0.755},{"s":"n7","x":90,"y":0.775},{"s":"n7","x":91,"y":0.53},{"s":"n7","x":92,"y":0.75},{"s":"n7","x":93,"y":0.53},{"s":"n7","x":94,"y":0.77},{"s":"n7","x":95,"y":0.755},{"s":"n7","x":96,"y":0.55},{"s":"n7","x":97,"y":0.765},{"s":"n7","x":98,"y":0.75},{"s":"n7","x":99,"y":0.77},{"s":"n7","x":100,"y":0.76},

      {"s":"n8","x":0,"y":0.95},{"s":"n8","x":1,"y":1},{"s":"n8","x":2,"y":0.8},{"s":"n8","x":3,"y":0.78},{"s":"n8","x":4,"y":0.81},{"s":"n8","x":5,"y":0.79},{"s":"n8","x":6,"y":0.8},{"s":"n8","x":7,"y":0.82},{"s":"n8","x":8,"y":0.79},{"s":"n8","x":9,"y":0.81},{"s":"n8","x":10,"y":0.78},{"s":"n8","x":11,"y":0.8},{"s":"n8","x":12,"y":0.81},{"s":"n8","x":13,"y":0.79},{"s":"n8","x":14,"y":0.82},{"s":"n8","x":15,"y":0.8},{"s":"n8","x":16,"y":0.78},{"s":"n8","x":17,"y":0.81},{"s":"n8","x":18,"y":0.8},{"s":"n8","x":19,"y":0.6},{"s":"n8","x":20,"y":1},{"s":"n8","x":21,"y":0.7},{"s":"n8","x":22,"y":1},{"s":"n8","x":23,"y":0.81},{"s":"n8","x":24,"y":0.79},{"s":"n8","x":25,"y":0.8},{"s":"n8","x":26,"y":0.6},{"s":"n8","x":27,"y":0.9},{"s":"n8","x":28,"y":1},{"s":"n8","x":29,"y":0.7},{"s":"n8","x":30,"y":0.81},{"s":"n8","x":31,"y":0.79},{"s":"n8","x":32,"y":0.82},{"s":"n8","x":33,"y":0.8},{"s":"n8","x":34,"y":0.78},{"s":"n8","x":35,"y":0.81},{"s":"n8","x":36,"y":0.79},{"s":"n8","x":37,"y":0.8},{"s":"n8","x":38,"y":0.82},{"s":"n8","x":39,"y":0.8},{"s":"n8","x":40,"y":0.9},{"s":"n8","x":41,"y":0.79},{"s":"n8","x":42,"y":0.81},{"s":"n8","x":43,"y":0.8},{"s":"n8","x":44,"y":0.78},{"s":"n8","x":45,"y":0.82},{"s":"n8","x":46,"y":0.79},{"s":"n8","x":47,"y":0.81},{"s":"n8","x":48,"y":0.7},{"s":"n8","x":49,"y":0.8},{"s":"n8","x":50,"y":0.79},{"s":"n8","x":51,"y":0.82},{"s":"n8","x":52,"y":0.8},{"s":"n8","x":53,"y":0.78},{"s":"n8","x":54,"y":0.81},{"s":"n8","x":55,"y":0.79},{"s":"n8","x":56,"y":0.9},{"s":"n8","x":57,"y":0.8},{"s":"n8","x":58,"y":0.82},{"s":"n8","x":59,"y":0.79},{"s":"n8","x":60,"y":0.81},{"s":"n8","x":61,"y":0.6},{"s":"n8","x":62,"y":0.78},{"s":"n8","x":63,"y":0.8},{"s":"n8","x":64,"y":0.9},{"s":"n8","x":65,"y":0.82},{"s":"n8","x":66,"y":0.8},{"s":"n8","x":67,"y":0.79},{"s":"n8","x":68,"y":0.81},{"s":"n8","x":69,"y":0.78},{"s":"n8","x":70,"y":0.8},{"s":"n8","x":71,"y":0.82},{"s":"n8","x":72,"y":0.7},{"s":"n8","x":73,"y":0.79},{"s":"n8","x":74,"y":0.81},{"s":"n8","x":75,"y":0.8},{"s":"n8","x":76,"y":0.82},{"s":"n8","x":77,"y":0.78},{"s":"n8","x":78,"y":0.8},{"s":"n8","x":79,"y":0.81},{"s":"n8","x":80,"y":0.79},{"s":"n8","x":81,"y":0.8},{"s":"n8","x":82,"y":0.82},{"s":"n8","x":83,"y":0.79},{"s":"n8","x":84,"y":0.9},{"s":"n8","x":85,"y":0.81},{"s":"n8","x":86,"y":0.79},{"s":"n8","x":87,"y":0.8},{"s":"n8","x":88,"y":1},{"s":"n8","x":89,"y":0.79},{"s":"n8","x":90,"y":0.81},{"s":"n8","x":91,"y":0.65},{"s":"n8","x":92,"y":0.8},{"s":"n8","x":93,"y":1},{"s":"n8","x":94,"y":0.82},{"s":"n8","x":95,"y":0.79},{"s":"n8","x":96,"y":0.9},{"s":"n8","x":97,"y":0.8},{"s":"n8","x":98,"y":0.82},{"s":"n8","x":99,"y":0.79},{"s":"n8","x":100,"y":0.81},

      {"s":"n9","x":0,"y":0.7},{"s":"n9","x":1,"y":0.75},{"s":"n9","x":2,"y":0.77},{"s":"n9","x":3,"y":0.79},{"s":"n9","x":4,"y":0.76},{"s":"n9","x":5,"y":0.8},{"s":"n9","x":6,"y":0.78},{"s":"n9","x":7,"y":0.76},{"s":"n9","x":8,"y":0.79},{"s":"n9","x":9,"y":0.77},{"s":"n9","x":10,"y":0.8},{"s":"n9","x":11,"y":0.78},{"s":"n9","x":12,"y":0.76},{"s":"n9","x":13,"y":0.79},{"s":"n9","x":14,"y":0.77},{"s":"n9","x":15,"y":0.8},{"s":"n9","x":16,"y":0.78},{"s":"n9","x":17,"y":0.76},{"s":"n9","x":18,"y":0.79},{"s":"n9","x":19,"y":0.7},{"s":"n9","x":20,"y":0.55},{"s":"n9","x":21,"y":0.9},{"s":"n9","x":22,"y":0.6},{"s":"n9","x":23,"y":0.76},{"s":"n9","x":24,"y":0.8},{"s":"n9","x":25,"y":0.78},{"s":"n9","x":26,"y":0.7},{"s":"n9","x":27,"y":0.55},{"s":"n9","x":28,"y":0.8},{"s":"n9","x":29,"y":0.6},{"s":"n9","x":30,"y":0.77},{"s":"n9","x":31,"y":0.79},{"s":"n9","x":32,"y":0.76},{"s":"n9","x":33,"y":0.8},{"s":"n9","x":34,"y":0.78},{"s":"n9","x":35,"y":0.77},{"s":"n9","x":36,"y":0.79},{"s":"n9","x":37,"y":0.76},{"s":"n9","x":38,"y":0.8},{"s":"n9","x":39,"y":0.78},{"s":"n9","x":40,"y":0.6},{"s":"n9","x":41,"y":0.77},{"s":"n9","x":42,"y":0.8},{"s":"n9","x":43,"y":0.78},{"s":"n9","x":44,"y":0.76},{"s":"n9","x":45,"y":0.79},{"s":"n9","x":46,"y":0.77},{"s":"n9","x":47,"y":0.8},{"s":"n9","x":48,"y":0.7},{"s":"n9","x":49,"y":0.76},{"s":"n9","x":50,"y":0.79},{"s":"n9","x":51,"y":0.78},{"s":"n9","x":52,"y":0.8},{"s":"n9","x":53,"y":0.77},{"s":"n9","x":54,"y":0.79},{"s":"n9","x":55,"y":0.76},{"s":"n9","x":56,"y":0.65},{"s":"n9","x":57,"y":0.79},{"s":"n9","x":58,"y":0.77},{"s":"n9","x":59,"y":0.8},{"s":"n9","x":60,"y":0.76},{"s":"n9","x":61,"y":0.55},{"s":"n9","x":62,"y":0.78},{"s":"n9","x":63,"y":0.79},{"s":"n9","x":64,"y":0.7},{"s":"n9","x":65,"y":0.76},{"s":"n9","x":66,"y":0.8},{"s":"n9","x":67,"y":0.78},{"s":"n9","x":68,"y":0.77},{"s":"n9","x":69,"y":0.79},{"s":"n9","x":70,"y":0.76},{"s":"n9","x":71,"y":0.8},{"s":"n9","x":72,"y":0.6},{"s":"n9","x":73,"y":0.78},{"s":"n9","x":74,"y":0.76},{"s":"n9","x":75,"y":0.79},{"s":"n9","x":76,"y":0.77},{"s":"n9","x":77,"y":0.8},{"s":"n9","x":78,"y":0.78},{"s":"n9","x":79,"y":0.76},{"s":"n9","x":80,"y":0.79},{"s":"n9","x":81,"y":0.77},{"s":"n9","x":82,"y":0.8},{"s":"n9","x":83,"y":0.78},{"s":"n9","x":84,"y":0.7},{"s":"n9","x":85,"y":0.77},{"s":"n9","x":86,"y":0.8},{"s":"n9","x":87,"y":0.78},{"s":"n9","x":88,"y":0.6},{"s":"n9","x":89,"y":0.76},{"s":"n9","x":90,"y":0.79},{"s":"n9","x":91,"y":0.7},{"s":"n9","x":92,"y":0.78},{"s":"n9","x":93,"y":0.65},{"s":"n9","x":94,"y":0.77},{"s":"n9","x":95,"y":0.8},{"s":"n9","x":96,"y":0.7},{"s":"n9","x":97,"y":0.76},{"s":"n9","x":98,"y":0.79},{"s":"n9","x":99,"y":0.78},{"s":"n9","x":100,"y":0.77},

      {"s":"n10","x":0,"y":0.85},{"s":"n10","x":1,"y":0.9},{"s":"n10","x":2,"y":0.83},{"s":"n10","x":3,"y":0.81},{"s":"n10","x":4,"y":0.84},{"s":"n10","x":5,"y":0.82},{"s":"n10","x":6,"y":0.8},{"s":"n10","x":7,"y":0.85},{"s":"n10","x":8,"y":0.83},{"s":"n10","x":9,"y":0.81},{"s":"n10","x":10,"y":0.84},{"s":"n10","x":11,"y":0.82},{"s":"n10","x":12,"y":0.85},{"s":"n10","x":13,"y":0.8},{"s":"n10","x":14,"y":0.83},{"s":"n10","x":15,"y":0.81},{"s":"n10","x":16,"y":0.84},{"s":"n10","x":17,"y":0.82},{"s":"n10","x":18,"y":0.83},{"s":"n10","x":19,"y":0.9},{"s":"n10","x":20,"y":1},{"s":"n10","x":21,"y":0.6},{"s":"n10","x":22,"y":1},{"s":"n10","x":23,"y":0.82},{"s":"n10","x":24,"y":0.84},{"s":"n10","x":25,"y":0.81},{"s":"n10","x":26,"y":0.9},{"s":"n10","x":27,"y":0.6},{"s":"n10","x":28,"y":1},{"s":"n10","x":29,"y":0.9},{"s":"n10","x":30,"y":0.83},{"s":"n10","x":31,"y":0.85},{"s":"n10","x":32,"y":0.81},{"s":"n10","x":33,"y":0.84},{"s":"n10","x":34,"y":0.82},{"s":"n10","x":35,"y":0.8},{"s":"n10","x":36,"y":0.84},{"s":"n10","x":37,"y":0.82},{"s":"n10","x":38,"y":0.85},{"s":"n10","x":39,"y":0.81},{"s":"n10","x":40,"y":0.55},{"s":"n10","x":41,"y":0.83},{"s":"n10","x":42,"y":0.81},{"s":"n10","x":43,"y":0.85},{"s":"n10","x":44,"y":0.82},{"s":"n10","x":45,"y":0.8},{"s":"n10","x":46,"y":0.84},{"s":"n10","x":47,"y":0.83},{"s":"n10","x":48,"y":0.9},{"s":"n10","x":49,"y":0.82},{"s":"n10","x":50,"y":0.84},{"s":"n10","x":51,"y":0.81},{"s":"n10","x":52,"y":0.83},{"s":"n10","x":53,"y":0.85},{"s":"n10","x":54,"y":0.82},{"s":"n10","x":55,"y":0.8},{"s":"n10","x":56,"y":0.55},{"s":"n10","x":57,"y":0.84},{"s":"n10","x":58,"y":0.82},{"s":"n10","x":59,"y":0.85},{"s":"n10","x":60,"y":0.81},{"s":"n10","x":61,"y":0.9},{"s":"n10","x":62,"y":0.83},{"s":"n10","x":63,"y":0.82},{"s":"n10","x":64,"y":1},{"s":"n10","x":65,"y":0.84},{"s":"n10","x":66,"y":0.81},{"s":"n10","x":67,"y":0.83},{"s":"n10","x":68,"y":0.85},{"s":"n10","x":69,"y":0.82},{"s":"n10","x":70,"y":0.8},{"s":"n10","x":71,"y":0.84},{"s":"n10","x":72,"y":0.55},{"s":"n10","x":73,"y":0.81},{"s":"n10","x":74,"y":0.84},{"s":"n10","x":75,"y":0.82},{"s":"n10","x":76,"y":0.85},{"s":"n10","x":77,"y":0.8},{"s":"n10","x":78,"y":0.83},{"s":"n10","x":79,"y":0.81},{"s":"n10","x":80,"y":0.84},{"s":"n10","x":81,"y":0.82},{"s":"n10","x":82,"y":0.8},{"s":"n10","x":83,"y":0.84},{"s":"n10","x":84,"y":0.9},{"s":"n10","x":85,"y":0.82},{"s":"n10","x":86,"y":0.84},{"s":"n10","x":87,"y":0.81},{"s":"n10","x":88,"y":1},{"s":"n10","x":89,"y":0.83},{"s":"n10","x":90,"y":0.85},{"s":"n10","x":91,"y":0.9},{"s":"n10","x":92,"y":0.82},{"s":"n10","x":93,"y":0.7},{"s":"n10","x":94,"y":0.84},{"s":"n10","x":95,"y":0.81},{"s":"n10","x":96,"y":0.9},{"s":"n10","x":97,"y":0.83},{"s":"n10","x":98,"y":0.8},{"s":"n10","x":99,"y":0.84},{"s":"n10","x":100,"y":0.82},

      {"s":"bR","x":1,"y":0.15},{"s":"bR","x":2,"y":0.2},{"s":"bR","x":18,"y":0.2},{"s":"bR","x":19,"y":0.9},{"s":"bR","x":20,"y":0.5},{"s":"bR","x":21,"y":0.15},{"s":"bR","x":22,"y":0.15},{"s":"bR","x":23,"y":0.2},{"s":"bR","x":25,"y":0.2},{"s":"bR","x":26,"y":0.15},{"s":"bR","x":27,"y":0},{"s":"bR","x":28,"y":0.15},{"s":"bR","x":29,"y":0.15},{"s":"bR","x":30,"y":0.2},{"s":"bR","x":39,"y":0.2},{"s":"bR","x":40,"y":0},{"s":"bR","x":41,"y":0.2},{"s":"bR","x":47,"y":0.2},{"s":"bR","x":48,"y":0.15},{"s":"bR","x":49,"y":0.2},{"s":"bR","x":55,"y":0.2},{"s":"bR","x":56,"y":0},{"s":"bR","x":57,"y":0.2},{"s":"bR","x":60,"y":0.2},{"s":"bR","x":61,"y":0.15},{"s":"bR","x":62,"y":0.2},{"s":"bR","x":63,"y":0.2},{"s":"bR","x":64,"y":1},{"s":"bR","x":65,"y":0.2},{"s":"bR","x":71,"y":0.2},{"s":"bR","x":72,"y":0},{"s":"bR","x":73,"y":0.2},{"s":"bR","x":83,"y":0.2},{"s":"bR","x":84,"y":1},{"s":"bR","x":85,"y":0.2},{"s":"bR","x":87,"y":0.2},{"s":"bR","x":88,"y":1},{"s":"bR","x":89,"y":0.2},{"s":"bR","x":90,"y":0.2},{"s":"bR","x":91,"y":0.15},{"s":"bR","x":92,"y":0.2},{"s":"bR","x":93,"y":0.15},{"s":"bR","x":94,"y":0.2},{"s":"bR","x":95,"y":0.2},{"s":"bR","x":96,"y":1},{"s":"bR","x":97,"y":0.2},{"s":"bR","x":100,"y":0.2},

      {"s":"bC","x":1,"y":0},{"s":"bC","x":2,"y":0.155},{"s":"bC","x":18,"y":0.155},{"s":"bC","x":19,"y":0.2},{"s":"bC","x":20,"y":0.1},{"s":"bC","x":21,"y":0},{"s":"bC","x":22,"y":0},{"s":"bC","x":23,"y":0.155},{"s":"bC","x":25,"y":0.155},{"s":"bC","x":26,"y":0},{"s":"bC","x":29,"y":0},{"s":"bC","x":30,"y":0.155},{"s":"bC","x":39,"y":0.155},{"s":"bC","x":40,"y":0},{"s":"bC","x":41,"y":0.155},{"s":"bC","x":47,"y":0.155},{"s":"bC","x":48,"y":0},{"s":"bC","x":49,"y":0.155},{"s":"bC","x":55,"y":0.155},{"s":"bC","x":56,"y":0},{"s":"bC","x":57,"y":0.155},{"s":"bC","x":60,"y":0.155},{"s":"bC","x":61,"y":0},{"s":"bC","x":62,"y":0.155},{"s":"bC","x":63,"y":0.155},{"s":"bC","x":64,"y":0.2},{"s":"bC","x":65,"y":0.155},{"s":"bC","x":71,"y":0.155},{"s":"bC","x":72,"y":0},{"s":"bC","x":73,"y":0.155},{"s":"bC","x":83,"y":0.155},{"s":"bC","x":84,"y":0.2},{"s":"bC","x":85,"y":0.155},{"s":"bC","x":87,"y":0.155},{"s":"bC","x":88,"y":0.2},{"s":"bC","x":89,"y":0.155},{"s":"bC","x":91,"y":0},{"s":"bC","x":92,"y":0.155},{"s":"bC","x":93,"y":0},{"s":"bC","x":94,"y":0.155},{"s":"bC","x":95,"y":0.155},{"s":"bC","x":96,"y":0.2},{"s":"bC","x":97,"y":0.155},{"s":"bC","x":100,"y":0.155},

      {"s":"bM","x":0,"y":0},{"s":"bM","x":18,"y":0},{"s":"bM","x":19,"y":0.15},{"s":"bM","x":20,"y":0},{"s":"bM","x":63,"y":0},{"s":"bM","x":64,"y":0.15},{"s":"bM","x":65,"y":0},{"s":"bM","x":83,"y":0},{"s":"bM","x":84,"y":0.15},{"s":"bM","x":85,"y":0},{"s":"bM","x":87,"y":0},{"s":"bM","x":88,"y":0.15},{"s":"bM","x":89,"y":0},{"s":"bM","x":95,"y":0},{"s":"bM","x":96,"y":0.15},{"s":"bM","x":97,"y":0},{"s":"bM","x":100,"y":0},

      {"s":"b49","x":1,"y":0.6},{"s":"b49","x":2,"y":0.49},{"s":"b49","x":100,"y":0.49},

      {"s":"z0","x":0,"y":0},{"s":"z0","x":100,"y":0}
    ]
  },
  "layer": [
    {
      "transform": [{"filter": "datum.s !== 'z0'"}],
      "mark": {"type": "line", "strokeWidth": 2, "clip": true},
      "encoding": {
        "x": {
          "field": "x",
          "type": "quantitative",
          "scale": {"domain": [0, 100], "nice": false},
          "axis": {
            "values": [0, 10, 20, 30, 40, 50, 60, 70, 80, 90, 100],
            "title": "Observations",
            "labelBaseline": "alphabetic",
            "labelPadding": 36,
            "labelFlush": false,
            "titlePadding": 8
          }
        },
        "y": {
          "field": "y",
          "type": "quantitative",
          "scale": {"domain": [0, 1], "nice": false},
          "axis": {
            "values": [0, 0.1, 0.2, 0.3, 0.4, 0.5, 0.6, 0.7, 0.8, 0.9, 1],
            "format": "~g",
            "title": "Permanence",
            "labelPadding": 17,
            "titlePadding": 20
          }
        },
        "color": {
          "field": "s",
          "type": "nominal",
          "scale": {
            "domain": ["b49", "bM", "bC", "bR", "fy", "fg", "f6", "f5", "f4", "f3", "f2", "f1", "n7", "n2", "n9", "n4", "n10", "n6", "n5", "n3", "n8", "n1"],
            "range": ["#26268c", "#b43cb4", "#34c2c2", "#d23a3a", "#c4c410", "#2f7f2f", "#1e1e8c", "#1e1e8c", "#1e1e8c", "#1e1e8c", "#1e1e8c", "#1e1e8c", "#2a6a3a", "#1e8a1e", "#a030c0", "#d2c81e", "#2a2ad8", "#1e3cf0", "#28bebe", "#b42db4", "#cc2222", "#e01e1e"]
          },
          "legend": null
        }
      }
    },
    {
      "transform": [{"filter": "datum.s === 'z0'"}],
      "mark": {"type": "line", "strokeWidth": 3, "color": "#14146e"},
      "encoding": {
        "x": {
          "field": "x",
          "type": "quantitative",
          "axis": {"orient": "top", "labels": false, "title": null, "values": [0, 10, 20, 30, 40, 50, 60, 70, 80, 90, 100]}
        },
        "y": {
          "field": "y",
          "type": "quantitative",
          "axis": {"orient": "right", "labels": false, "title": null, "values": [0, 0.1, 0.2, 0.3, 0.4, 0.5, 0.6, 0.7, 0.8, 0.9, 1]}
        }
      }
    }
  ],
  "resolve": {"axis": {"x": "independent", "y": "independent"}}
}
